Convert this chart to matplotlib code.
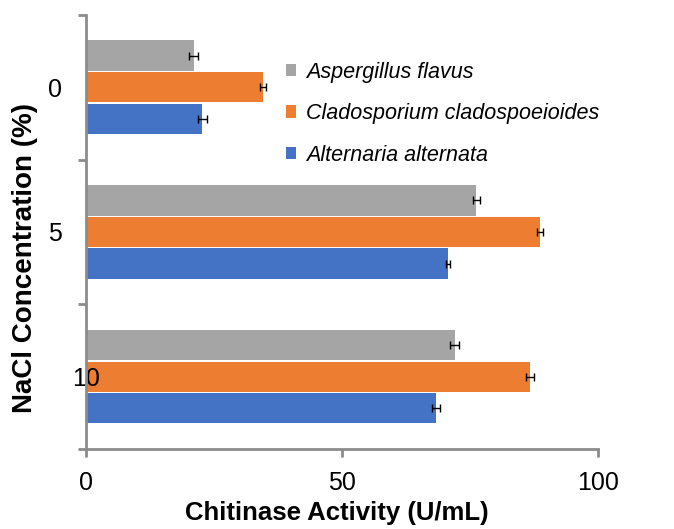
import matplotlib.pyplot as plt
import matplotlib.transforms as mtransforms
import numpy as np

plt.rcParams['font.family'] = ['Liberation Sans', 'DejaVu Sans']

nacl = ['0', '5', '10']
species = ['Aspergillus flavus', 'Cladosporium cladospoeioides', 'Alternaria alternata']
colors = ['#A5A5A5', '#ED7D31', '#4472C4']

activity = {
    'Aspergillus flavus': [21.0, 76.2, 72.0],
    'Cladosporium cladospoeioides': [34.6, 88.7, 86.7],
    'Alternaria alternata': [22.7, 70.7, 68.3],
}
errors = {
    'Aspergillus flavus': [0.9, 0.7, 0.9],
    'Cladosporium cladospoeioides': [0.6, 0.6, 0.8],
    'Alternaria alternata': [0.9, 0.3, 0.8],
}

fig = plt.figure(figsize=(6.74, 5.29), dpi=100)
ax = fig.add_axes([0.1276, 0.151, 0.7596, 0.821])

y = np.arange(len(nacl))
offsets = [-0.218, 0.0, 0.218]
for name, off, c in zip(species, offsets, colors):
    ax.barh(y + off, activity[name], height=0.21, color=c, label=name,
            xerr=errors[name], error_kw=dict(ecolor='black', elinewidth=1.0,
                                             capsize=3, capthick=1.0))

ax.set_xlim(0, 100)
ax.set_ylim(2.5, -0.5)
ax.set_xticks([0, 50, 100])
ax.set_yticks(y)
ax.set_yticklabels(nacl)
ax.set_yticks([-0.5, 0.5, 1.5, 2.5], minor=True)

for s in ['top', 'right']:
    ax.spines[s].set_visible(False)
for s in ['left', 'bottom']:
    ax.spines[s].set_color('#8C8C8C')
    ax.spines[s].set_linewidth(2)

ax.tick_params(axis='y', which='major', length=0, pad=17, labelsize=18)
ax.tick_params(axis='y', which='minor', length=6, width=2, color='#8C8C8C')
ax.tick_params(axis='x', length=6, width=2, color='#8C8C8C', pad=10, labelsize=18)

# the "10" label sits over the axis line
lab = ax.get_yticklabels()[2]
lab.set_transform(lab.get_transform() + mtransforms.ScaledTranslation(38 / 100, 0, fig.dpi_scale_trans))

ax.set_xlabel('Chitinase Activity (U/mL)', fontsize=18.5, fontweight='bold')
ax.xaxis.set_label_coords(0.49, -0.12)
ax.set_ylabel('NaCl Concentration (%)', fontsize=20, fontweight='bold')
ax.yaxis.set_label_coords(-0.094, 0.44)

leg = ax.legend(loc='upper left', bbox_to_anchor=(0.39, 0.892), frameon=False,
                prop={'style': 'italic', 'size': 15.5}, handlelength=0.5, handleheight=0.5,
                handletextpad=0.45, labelspacing=0.95, borderpad=0, borderaxespad=0)

fig.savefig('out.png', dpi=100)
